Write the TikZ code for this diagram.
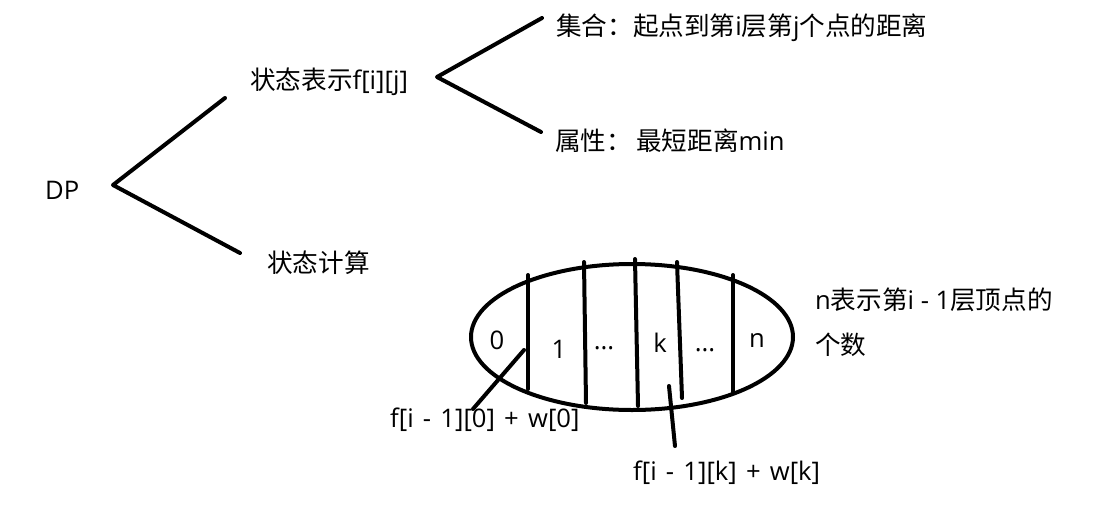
\documentclass[tikz,border=0pt]{standalone}
\usepackage{fontspec}
\setmainfont{Open Sans}
\newfontfamily\cjk{Noto Sans CJK SC}
\begin{document}
\begin{tikzpicture}[x=1pt,y=-1pt,
  lbl/.style={inner sep=0pt,anchor=west,font=\fontsize{25.6}{30}\selectfont},
  cell/.style={inner sep=0pt,font=\fontsize{25.6}{30}\selectfont},
  ln/.style={line width=4pt,line cap=round,line join=round}]
\useasboundingbox[fill=white] (0,0) rectangle (1117,517);
% tree
\node[lbl] (dp) at (45,190) {DP};
\coordinate (dpj) at (113,185);
\coordinate (a1) at (225,98);
\coordinate (a2) at (240,253);
\draw[ln] (a1) -- (dpj) -- (a2);
\node[lbl] (rep) at (250,82) {{\cjk 状态表示}f[i][j]};
\node[lbl] (calc) at (267,263) {\cjk 状态计算};
\coordinate (rj) at (437,77);
\coordinate (b1) at (542,18);
\coordinate (b2) at (541,132);
\draw[ln] (b1) -- (rj) -- (b2);
\node[lbl] (set) at (556,28) {{\cjk 集合：起点到第}i{\cjk 层第}j{\cjk 个点的距离}};
\node[lbl] (attr) at (555,141) {{\cjk 属性：}\,{\cjk 最短距离}min};
% ellipse
\coordinate (ell) at (632,337);
\draw[ln] (ell) ellipse [x radius=161, y radius=73];
\draw[ln] (528,275) -- (528,389);
\draw[ln] (584,262) -- (586,403);
\draw[ln] (635,259) -- (638,406);
\draw[ln] (677,262) -- (682,398);
\draw[ln] (733,275) -- (733,392);
\node[cell] (c0) at (497,340) {0};
\node[cell] (c1) at (559,349) {1};
\node[cell] (c2) at (604,348) {...};
\node[cell] (ck) at (660,343) {k};
\node[cell] (c3) at (705,350) {...};
\node[cell] (cn) at (757,341) {n};
\node[lbl] (nt1) at (815,300) {n{\cjk 表示第}i - 1{\cjk 层顶点的}};
\node[lbl] (nt2) at (815,345) {\cjk 个数};
% pointers
\node[lbl] (f0) at (390,420) {\spaceskip=0.36em\relax f[i - 1][0] + w[0]};
\node[lbl] (fk) at (633,473) {\spaceskip=0.36em\relax f[i - 1][k] + w[k]};
\coordinate (p0s) at (524,350);
\coordinate (p0e) at (473,409);
\draw[ln] (p0s) -- (p0e);
\coordinate (pks) at (669,386);
\coordinate (pke) at (675,446);
\draw[ln] (pks) -- (pke);
\end{tikzpicture}
\end{document}
